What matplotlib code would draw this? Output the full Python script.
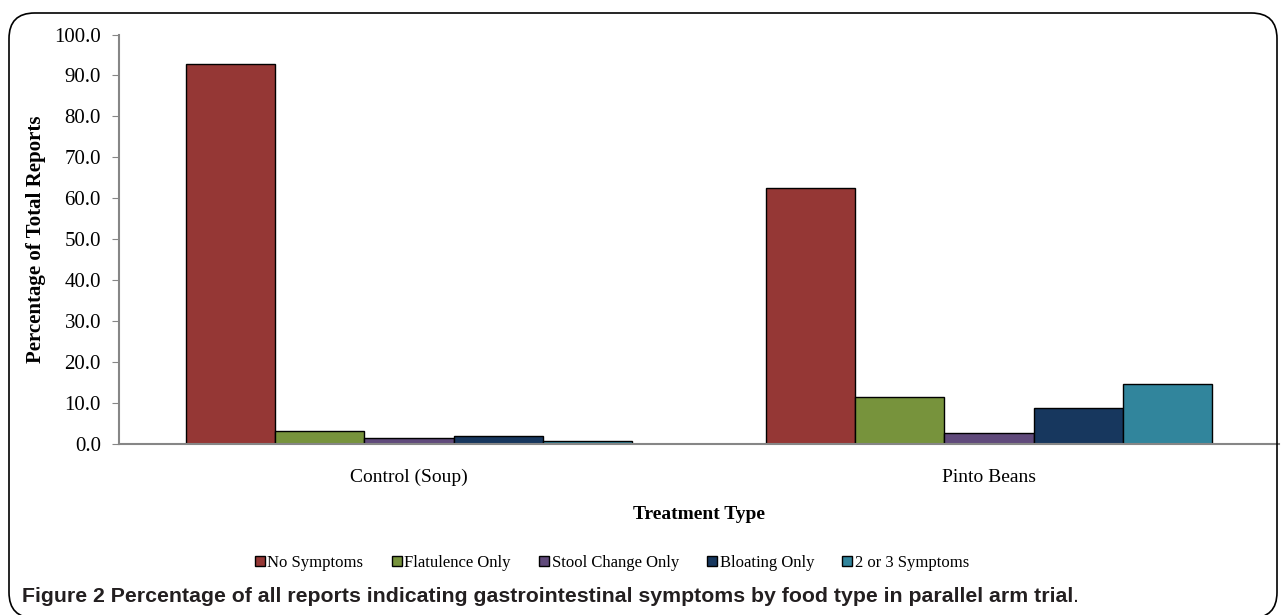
import numpy as np
import matplotlib.pyplot as plt
from matplotlib.patches import FancyBboxPatch, Patch

# Data
groups = ['Control (Soup)', 'Pinto Beans']
series = ['No Symptoms', 'Flatulence Only', 'Stool Change Only', 'Bloating Only', '2 or 3 Symptoms']
no_symptoms = [92.8, 62.5]
flatulence = [3.2, 11.5]
stool_change = [1.5, 2.7]
bloating = [2.0, 8.8]
two_or_three = [0.7, 14.7]
colors = ['#953735', '#77933C', '#604A7B', '#17375E', '#31859C']
yticks = np.arange(0, 101, 10)

values = [no_symptoms, flatulence, stool_change, bloating, two_or_three]

serif = 'Liberation Serif'
fig = plt.figure(figsize=(12.82, 6.15), dpi=100)

# rounded frame around the figure (bottom edge runs just off the image)
frame = FancyBboxPatch((9 / 1282, -3 / 615), 1268 / 1282, 605 / 615,
                       boxstyle='round,pad=0,rounding_size=0.02',
                       transform=fig.transFigure, fill=False, edgecolor='black',
                       linewidth=1.2, mutation_aspect=1282 / 615)
fig.patches.append(frame)

ax = fig.add_axes([119 / 1282, (615 - 444) / 615, (1279 - 119) / 1282, (444 - 34.5) / 615])

# bar layout like Excel: gap width 150%
x = np.arange(len(groups))
n = len(series)
width = 1 / (n + 1.5)
for i, (name, vals) in enumerate(zip(series, values)):
    offs = (i - (n - 1) / 2) * width
    ax.bar(x + offs, vals, width, color=colors[i], edgecolor='black', linewidth=1.0, label=name)

ax.set_xlim(-0.5, 1.5)
ax.set_ylim(0, 100)
ax.set_yticks(yticks)
ax.set_yticklabels([f'{t:.1f}' for t in yticks], fontsize=15, fontfamily=serif)
ax.set_xticks(x)
ax.set_xticklabels(groups, fontsize=14, fontfamily=serif)
ax.tick_params(axis='x', length=0, pad=18)
ax.tick_params(axis='y', length=5, color='#868686', pad=8)

for s in ['top', 'right']:
    ax.spines[s].set_visible(False)
for s in ['left', 'bottom']:
    ax.spines[s].set_color('#868686')
    ax.spines[s].set_linewidth(1.5)

ax.set_ylabel('Percentage of Total Reports', fontsize=15, fontweight='bold', fontfamily=serif, labelpad=6)
ax.set_xlabel('Treatment Type', fontsize=14, fontweight='bold', fontfamily=serif, labelpad=14)

handles = [Patch(facecolor=c, edgecolor='black', linewidth=1.0) for c in colors]
fig.legend(handles, series, loc='center', bbox_to_anchor=(612 / 1282, 1 - 563 / 615), ncol=5,
           frameon=False, prop={'family': serif, 'size': 12}, handlelength=0.6, handleheight=0.6,
           handletextpad=0.15, columnspacing=1.7)

cap = fig.text(22 / 1282, 1 - 597 / 615,
               'Figure 2 Percentage of all reports indicating gastrointestinal symptoms by food type in parallel arm trial',
               fontsize=15.3, fontweight='bold', fontfamily='Liberation Sans', va='center', color='#231F20')
fig.canvas.draw()
bb = cap.get_window_extent()
fig.text(bb.x1 / 1282, 1 - 597 / 615, '.', fontsize=15.3, fontfamily='Liberation Sans',
         va='center', color='#231F20')

plt.savefig('out.png', dpi=100)
